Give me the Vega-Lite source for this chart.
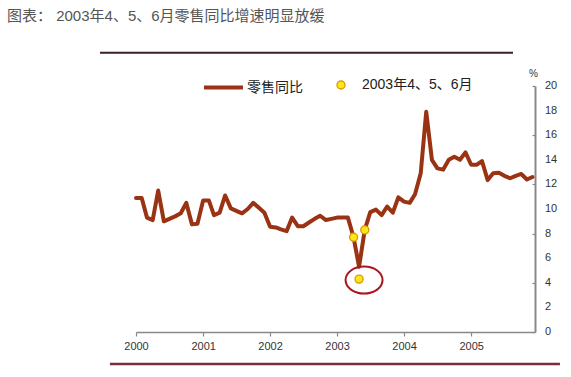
{
  "$schema": "https://vega.github.io/schema/vega-lite/v6.json",
  "width": 399,
  "height": 246,
  "autosize": {"type": "none"},
  "padding": {"left": 136, "top": 86, "right": 36, "bottom": 45},
  "background": "white",
  "title": {
    "text": "图表： 2003年4、5、6月零售同比增速明显放缓",
    "anchor": "start",
    "frame": "group",
    "dx": -129,
    "dy": 12,
    "offset": 40,
    "fontSize": 15,
    "fontWeight": "normal",
    "font": "Liberation Sans, Noto Sans CJK SC",
    "color": "#555555"
  },
  "config": {
    "view": {"stroke": null},
    "font": "Liberation Sans, Noto Sans CJK SC"
  },
  "datasets": {
    "sales": [
      {"date": "2000-01-01", "v": 10.9}, {"date": "2000-02-01", "v": 10.9}, {"date": "2000-03-01", "v": 9.3}, {"date": "2000-04-01", "v": 9.1},
      {"date": "2000-05-01", "v": 11.5}, {"date": "2000-06-01", "v": 9.0}, {"date": "2000-07-01", "v": 9.2}, {"date": "2000-08-01", "v": 9.4},
      {"date": "2000-09-01", "v": 9.65}, {"date": "2000-10-01", "v": 10.5}, {"date": "2000-11-01", "v": 8.75}, {"date": "2000-12-01", "v": 8.8},
      {"date": "2001-01-01", "v": 10.7}, {"date": "2001-02-01", "v": 10.7}, {"date": "2001-03-01", "v": 9.5}, {"date": "2001-04-01", "v": 9.7},
      {"date": "2001-05-01", "v": 11.1}, {"date": "2001-06-01", "v": 10.05}, {"date": "2001-07-01", "v": 9.85}, {"date": "2001-08-01", "v": 9.65},
      {"date": "2001-09-01", "v": 10.0}, {"date": "2001-10-01", "v": 10.5}, {"date": "2001-11-01", "v": 10.1}, {"date": "2001-12-01", "v": 9.7},
      {"date": "2002-01-01", "v": 8.55}, {"date": "2002-02-01", "v": 8.5}, {"date": "2002-03-01", "v": 8.35}, {"date": "2002-04-01", "v": 8.2},
      {"date": "2002-05-01", "v": 9.3}, {"date": "2002-06-01", "v": 8.6}, {"date": "2002-07-01", "v": 8.6}, {"date": "2002-08-01", "v": 8.9},
      {"date": "2002-09-01", "v": 9.2}, {"date": "2002-10-01", "v": 9.45}, {"date": "2002-11-01", "v": 9.1}, {"date": "2002-12-01", "v": 9.2},
      {"date": "2003-01-01", "v": 9.3}, {"date": "2003-02-01", "v": 9.3}, {"date": "2003-03-01", "v": 9.3}, {"date": "2003-04-01", "v": 7.7},
      {"date": "2003-05-01", "v": 5.3}, {"date": "2003-06-01", "v": 8.3}, {"date": "2003-07-01", "v": 9.75}, {"date": "2003-08-01", "v": 9.95},
      {"date": "2003-09-01", "v": 9.5}, {"date": "2003-10-01", "v": 10.2}, {"date": "2003-11-01", "v": 9.7}, {"date": "2003-12-01", "v": 10.95},
      {"date": "2004-01-01", "v": 10.6}, {"date": "2004-02-01", "v": 10.5}, {"date": "2004-03-01", "v": 11.2}, {"date": "2004-04-01", "v": 12.9},
      {"date": "2004-05-01", "v": 17.9}, {"date": "2004-06-01", "v": 14.0}, {"date": "2004-07-01", "v": 13.3}, {"date": "2004-08-01", "v": 13.2},
      {"date": "2004-09-01", "v": 14.0}, {"date": "2004-10-01", "v": 14.25}, {"date": "2004-11-01", "v": 14.0}, {"date": "2004-12-01", "v": 14.6},
      {"date": "2005-01-01", "v": 13.6}, {"date": "2005-02-01", "v": 13.6}, {"date": "2005-03-01", "v": 13.9}, {"date": "2005-04-01", "v": 12.35},
      {"date": "2005-05-01", "v": 12.9}, {"date": "2005-06-01", "v": 12.95}, {"date": "2005-07-01", "v": 12.7}, {"date": "2005-08-01", "v": 12.5},
      {"date": "2005-09-01", "v": 12.7}, {"date": "2005-10-01", "v": 12.85}, {"date": "2005-11-01", "v": 12.4}, {"date": "2005-12-01", "v": 12.6}
    ],
    "marks": [
      {"date": "2003-04-01", "v": 7.7},
      {"date": "2003-05-01", "v": 4.3},
      {"date": "2003-06-01", "v": 8.3}
    ],
    "yticks": [
      {"t": 0}, {"t": 2}, {"t": 4}, {"t": 6}, {"t": 8}, {"t": 10},
      {"t": 12}, {"t": 14}, {"t": 16}, {"t": 18}, {"t": 20}
    ]
  },
  "layer": [
    {
      "data": {"values": [{}]},
      "mark": {"type": "rule", "stroke": "#3a2026", "strokeWidth": 2},
      "encoding": {
        "x": {
          "datum": {"year": 1999, "month": 6, "date": 19}, "type": "temporal",
          "scale": {"domain": [{"year": 2000, "month": 1, "date": 1}, {"year": 2005, "month": 12, "date": 15}]},
          "axis": {
            "title": null, "format": "%Y", "tickCount": {"interval": "year", "step": 1},
            "grid": false, "domainColor": "#888888", "domainWidth": 1.5,
            "tickColor": "#888888", "tickWidth": 1.2, "tickSize": 4,
            "labelFontSize": 11, "labelColor": "#333333", "labelPadding": 4,
            "labelFont": "Liberation Sans", "labelFlush": false, "labelOverlap": false
          }
        },
        "x2": {"datum": {"year": 2005, "month": 8, "date": 17}},
        "y": {
          "datum": 22.7, "type": "quantitative", "scale": {"domain": [0, 20]},
          "axis": {
            "orient": "right", "values": [0, 2, 4, 6, 8, 10, 12, 14, 16, 18, 20],
            "grid": false, "domainColor": "#888888", "domainWidth": 2,
            "tickColor": "#888888", "tickWidth": 1.2, "tickSize": -3,
            "labels": false,
            "title": "%", "titleAngle": 0, "titleX": -2, "titleY": -8,
            "titleAlign": "center", "titleFontSize": 10, "titleFontWeight": "normal",
            "titleColor": "#333333", "titleFont": "Liberation Sans"
          }
        }
      }
    },
    {
      "data": {"values": [{}]},
      "mark": {"type": "rule", "stroke": "#7a2e3a", "strokeWidth": 2.5},
      "encoding": {
        "x": {"datum": {"year": 1999, "month": 8, "date": 12}, "type": "temporal"},
        "x2": {"datum": {"year": 2006, "month": 4, "date": 30}},
        "y": {"datum": -2.6, "type": "quantitative"}
      }
    },
    {
      "data": {"name": "yticks"},
      "mark": {"type": "text", "align": "left", "baseline": "middle", "fontSize": 11, "font": "Liberation Sans", "color": "#333333", "dx": 10},
      "encoding": {
        "x": {"datum": {"year": 2005, "month": 12, "date": 15}, "type": "temporal"},
        "y": {"field": "t", "type": "quantitative"},
        "text": {"field": "t", "type": "quantitative"}
      }
    },
    {
      "data": {"name": "sales"},
      "mark": {"type": "line", "strokeWidth": 4, "strokeJoin": "round", "strokeCap": "round"},
      "encoding": {
        "x": {"field": "date", "type": "temporal"},
        "y": {"field": "v", "type": "quantitative"},
        "color": {
          "datum": "零售同比",
          "scale": {"range": ["#993314"]},
          "legend": {
            "title": null, "orient": "none", "legendX": 66, "legendY": -20,
            "symbolType": "stroke", "symbolStrokeWidth": 4, "symbolSize": 1520,
            "labelFontSize": 14, "labelColor": "#222222", "labelOffset": 2,
            "labelFont": "Noto Sans CJK SC"
          }
        }
      }
    },
    {
      "data": {"name": "marks"},
      "mark": {"type": "point", "filled": true, "size": 64, "stroke": "#e09a00", "strokeWidth": 1.4, "opacity": 1},
      "encoding": {
        "x": {"field": "date", "type": "temporal"},
        "y": {"field": "v", "type": "quantitative"},
        "fill": {
          "datum": "2003年4、5、6月",
          "scale": {"range": ["#ffe81a"]},
          "legend": {
            "title": null, "orient": "none", "legendX": 198, "legendY": -8,
            "symbolType": "circle", "symbolSize": 64, "symbolStrokeColor": "#e09a00", "symbolStrokeWidth": 1.4,
            "labelFontSize": 14, "labelColor": "#222222", "labelOffset": 14,
            "labelFont": "Liberation Sans, Noto Sans CJK SC"
          }
        }
      }
    },
    {
      "data": {"values": [{}]},
      "mark": {
        "type": "point",
        "shape": "M -1 0 A 1 0.73 0 1 0 1 0 A 1 0.73 0 1 0 -1 0 Z",
        "size": 1369, "filled": false, "stroke": "#a8161f", "strokeWidth": 2, "opacity": 1, "xOffset": 5, "yOffset": 1
      },
      "encoding": {
        "x": {"datum": {"year": 2003, "month": 5, "date": 1}, "type": "temporal"},
        "y": {"datum": 4.3, "type": "quantitative"}
      }
    }
  ]
}
